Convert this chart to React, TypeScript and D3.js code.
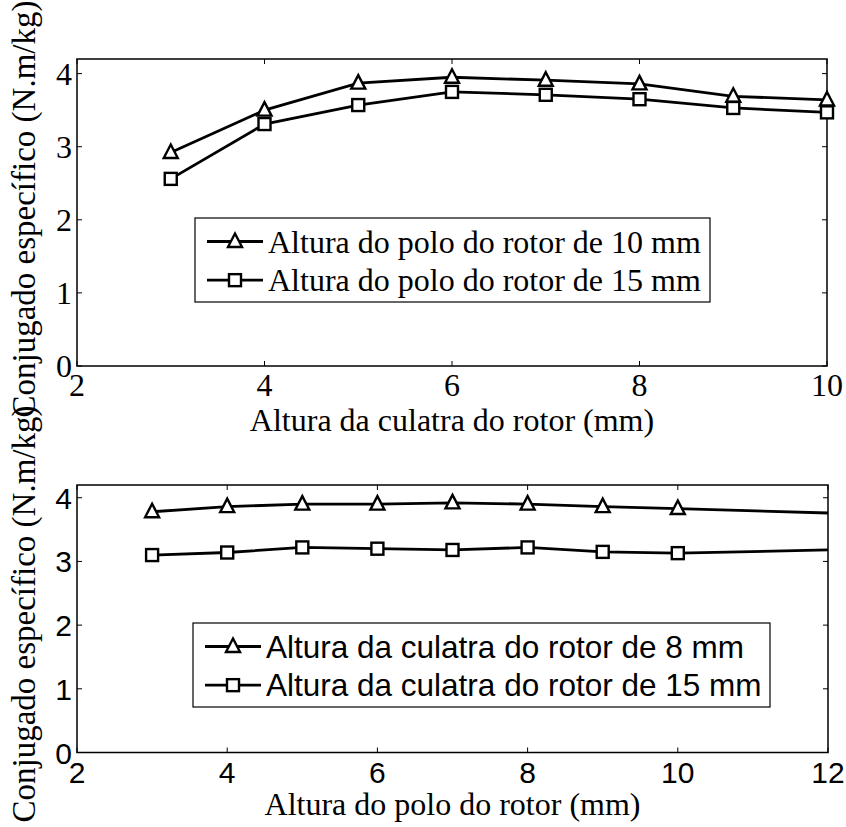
import React from 'react';
import * as d3 from 'd3';

// ---------- data ----------
const topX = [3, 4, 5, 6, 7, 8, 9, 10];
const topPolo10 = [2.92, 3.5, 3.87, 3.95, 3.91, 3.86, 3.69, 3.64];
const topPolo15 = [2.56, 3.31, 3.57, 3.75, 3.71, 3.65, 3.53, 3.47];
const topMarked = [true, true, true, true, true, true, true, true];
const topXTicks = [2, 4, 6, 8, 10];

const bottomX = [3, 4, 5, 6, 7, 8, 9, 10, 12];
const bottomCulatra8 = [3.78, 3.86, 3.9, 3.9, 3.92, 3.9, 3.86, 3.83, 3.76];
const bottomCulatra15 = [3.1, 3.14, 3.22, 3.2, 3.18, 3.22, 3.15, 3.13, 3.18];
const bottomMarked = [true, true, true, true, true, true, true, true, false];
const bottomXTicks = [2, 4, 6, 8, 10, 12];

const yTicks = [0, 1, 2, 3, 4];

const topLegend = ['Altura do polo do rotor de 10 mm', 'Altura do polo do rotor de 15 mm'];
const bottomLegend = ['Altura da culatra do rotor de 8 mm', 'Altura da culatra do rotor de 15 mm'];
const yTitle = 'Conjugado específico (N.m/kg)';
const topXTitle = 'Altura da culatra do rotor (mm)';
const bottomXTitle = 'Altura do polo do rotor (mm)';

// ---------- drawing ----------
const SERIF = "'Liberation Serif', 'Times New Roman', serif";
const SANS = "'Liberation Sans', Arial, sans-serif";

type Box = { l: number; r: number; t: number; b: number };

function Triangle({ x, y }: { x: number; y: number }) {
  const p = d3.path();
  p.moveTo(x, y - 8);
  p.lineTo(x + 7, y + 5.5);
  p.lineTo(x - 7, y + 5.5);
  p.closePath();
  return <path d={p.toString()} fill="white" stroke="black" strokeWidth={2.4} />;
}
function Square({ x, y }: { x: number; y: number }) {
  return <rect x={x - 6} y={y - 6} width={12} height={12} fill="white" stroke="black" strokeWidth={2.4} />;
}

function Panel(props: {
  box: Box;
  xDomain: [number, number];
  xTicks: number[];
  xs: number[];
  s1: number[];
  s2: number[];
  marked: boolean[];
  tickFont: string;
  tickSize: number;
  legendFont: string;
  legendSize: number;
  legendBox: Box;
  legendLabels: string[];
  xTitle: string;
  xTitleY: number;
  yTitleY: number;
  xLabelDy: number;
}) {
  const { box } = props;
  const x = d3.scaleLinear().domain(props.xDomain).range([box.l, box.r]);
  const y = d3.scaleLinear().domain([0, 4.2]).range([box.b, box.t]);
  const line = d3
    .line<[number, number]>()
    .x((d) => x(d[0]))
    .y((d) => y(d[1]));
  const d1 = line(props.xs.map((v, i) => [v, props.s1[i]] as [number, number])) || '';
  const d2 = line(props.xs.map((v, i) => [v, props.s2[i]] as [number, number])) || '';
  const tl = 5;
  const lb = props.legendBox;
  const row1 = lb.t + (lb.b - lb.t) * 0.28;
  const row2 = lb.t + (lb.b - lb.t) * 0.74;
  const lx0 = lb.l + 12;
  const lx1 = lb.l + 68;
  const lmid = (lx0 + lx1) / 2;
  return (
    <g>
      {/* ticks */}
      {props.xTicks.map((t) => (
        <g key={'xt' + t}>
          <line x1={x(t)} x2={x(t)} y1={box.b} y2={box.b - tl} stroke="black" strokeWidth={1} />
          <line x1={x(t)} x2={x(t)} y1={box.t} y2={box.t + tl} stroke="black" strokeWidth={1} />
          <text
            x={x(t)}
            y={box.b + props.xLabelDy}
            textAnchor="middle"
            fontFamily={props.tickFont}
            fontSize={props.tickSize}
          >
            {t}
          </text>
        </g>
      ))}
      {yTicks.map((t) => (
        <g key={'yt' + t}>
          <line x1={box.l} x2={box.l + tl} y1={y(t)} y2={y(t)} stroke="black" strokeWidth={1} />
          <line x1={box.r} x2={box.r - tl} y1={y(t)} y2={y(t)} stroke="black" strokeWidth={1} />
          <text
            x={box.l - 5}
            y={y(t) + 11}
            textAnchor="end"
            fontFamily={props.tickFont}
            fontSize={props.tickSize}
          >
            {t}
          </text>
        </g>
      ))}
      {/* frame */}
      <rect x={box.l} y={box.t} width={box.r - box.l} height={box.b - box.t} fill="none" stroke="black" strokeWidth={1.5} />
      {/* series */}
      <path d={d1} fill="none" stroke="black" strokeWidth={2.8} />
      <path d={d2} fill="none" stroke="black" strokeWidth={2.8} />
      {props.xs.map((v, i) =>
        props.marked[i] ? <Triangle key={'a' + i} x={x(v)} y={y(props.s1[i])} /> : null
      )}
      {props.xs.map((v, i) =>
        props.marked[i] ? <Square key={'b' + i} x={x(v)} y={y(props.s2[i])} /> : null
      )}
      {/* legend */}
      <rect x={lb.l} y={lb.t} width={lb.r - lb.l} height={lb.b - lb.t} fill="white" stroke="black" strokeWidth={1.2} />
      <line x1={lx0} x2={lx1} y1={row1} y2={row1} stroke="black" strokeWidth={2.8} />
      <Triangle x={lmid} y={row1} />
      <line x1={lx0} x2={lx1} y1={row2} y2={row2} stroke="black" strokeWidth={2.8} />
      <Square x={lmid} y={row2} />
      <text x={lx1 + 5} y={row1 + 11} fontFamily={props.legendFont} fontSize={props.legendSize}>
        {props.legendLabels[0]}
      </text>
      <text x={lx1 + 5} y={row2 + 11} fontFamily={props.legendFont} fontSize={props.legendSize}>
        {props.legendLabels[1]}
      </text>
      {/* titles */}
      <text
        x={(box.l + box.r) / 2}
        y={props.xTitleY}
        textAnchor="middle"
        fontFamily={SERIF}
        fontSize={32}
      >
        {props.xTitle}
      </text>
      <text
        transform={`translate(35,${props.yTitleY}) rotate(-90)`}
        textAnchor="middle"
        fontFamily={SERIF}
        fontSize={33}
      >
        {yTitle}
      </text>
    </g>
  );
}

export default function App() {
  return (
    <svg
      width={846}
      height={827}
      style={{ position: 'absolute', left: 0, top: 0, background: 'white' }}
    >
      <rect width={846} height={827} fill="white" />
      <Panel
        box={{ l: 77, r: 827, t: 59, b: 366 }}
        xDomain={[2, 10]}
        xTicks={topXTicks}
        xs={topX}
        s1={topPolo10}
        s2={topPolo15}
        marked={topMarked}
        tickFont={SERIF}
        tickSize={32}
        legendFont={SERIF}
        legendSize={32}
        legendBox={{ l: 195, r: 710, t: 218, b: 302 }}
        legendLabels={topLegend}
        xTitle={topXTitle}
        xTitleY={431}
        yTitleY={209}
        xLabelDy={30}
      />
      <Panel
        box={{ l: 77, r: 828, t: 485, b: 752.5 }}
        xDomain={[2, 12]}
        xTicks={bottomXTicks}
        xs={bottomX}
        s1={bottomCulatra8}
        s2={bottomCulatra15}
        marked={bottomMarked}
        tickFont={SANS}
        tickSize={30}
        legendFont={SANS}
        legendSize={31.5}
        legendBox={{ l: 193, r: 770, t: 623, b: 707 }}
        legendLabels={bottomLegend}
        xTitle={bottomXTitle}
        xTitleY={815}
        yTitleY={614}
        xLabelDy={30}
      />
    </svg>
  );
}
